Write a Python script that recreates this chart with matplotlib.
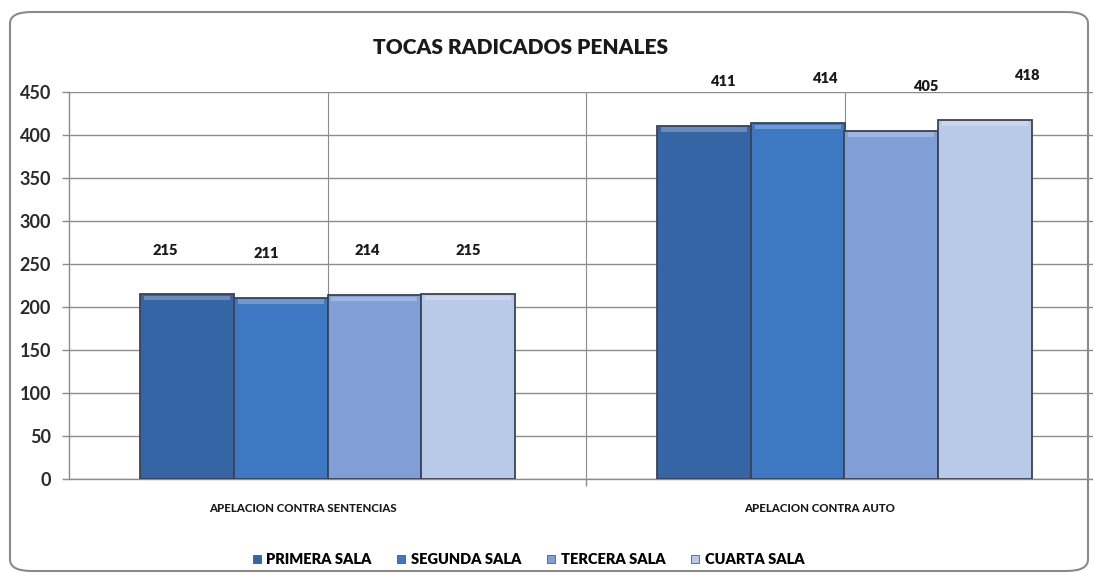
import matplotlib
matplotlib.use('AGG')

import numpy as np
import matplotlib.pyplot as plt
import matplotlib.transforms as mtransforms
from matplotlib.patches import FancyBboxPatch
from matplotlib.lines import Line2D

# Data
categories = ['APELACION CONTRA SENTENCIAS', 'APELACION CONTRA AUTO']
series = ['PRIMERA SALA', 'SEGUNDA SALA', 'TERCERA SALA', 'CUARTA SALA']
primera = [215, 411]
segunda = [211, 414]
tercera = [214, 405]
cuarta = [215, 418]
values = [primera, segunda, tercera, cuarta]

colors = ['#3665a5', '#3f78c2', '#7f9fd6', '#b9c9e8']
edge = '#3a4354'
grid_c = '#8c8c8c'
font = ['Lato', 'DejaVu Sans']

W, H = 1093, 573
fig = plt.figure(figsize=(W / 100, H / 100), dpi=100)

# rounded chart border
border = FancyBboxPatch((10 / W, 2 / H), 1078 / W, 559 / H,
                        boxstyle='round,pad=0,rounding_size=0.02',
                        transform=fig.transFigure, fill=False,
                        ec='#8a8a8a', lw=1.5)
fig.patches.append(border)

ax = fig.add_axes([69 / W, 94 / H, (1103 - 69) / W, 387 / H])

x = np.arange(len(categories))
bw = 0.1813
offsets = (np.arange(len(series)) - 1.5) * bw

for i, (vals, c) in enumerate(zip(values, colors)):
    ax.bar(x + offsets[i], vals, bw, color=c, edgecolor=edge,
           linewidth=1.3, zorder=3)
    # light bevel strip on top of each bar
    ax.bar(x + offsets[i], [5] * len(vals), bw * 0.92, bottom=np.array(vals) - 7,
           color='white', alpha=0.25, linewidth=0, zorder=4)
    for xi, v in zip(x + offsets[i], vals):
        shift = 0.08 * (xi - 0.26)
        ax.annotate(str(v), (xi + shift, v), xytext=(0, 27),
                    textcoords='offset points', ha='center', va='bottom',
                    fontsize=10.5, fontweight='heavy', color='#1a1a1a',
                    family=font)

ax.set_xlim(-0.5, 1.5)
ax.set_ylim(0, 450)
ax.set_yticks(np.arange(0, 451, 50))
ax.tick_params(axis='y', length=5, width=1, color=grid_c, pad=8,
               labelsize=13, labelcolor='#2a2a2a')
for lab in ax.get_yticklabels():
    lab.set_family(font)
    lab.set_fontweight('bold')

ax.set_xticks(x)
ax.set_xticklabels([])
ax.set_xticks([0.5, 1.5], minor=True)
ax.tick_params(axis='x', which='major', length=0)
ax.tick_params(axis='x', which='minor', length=5, width=1, color=grid_c)

ax.grid(True, axis='y', color=grid_c, lw=1, zorder=0)
ax.grid(True, axis='x', which='both', color=grid_c, lw=0.8, zorder=0)
ax.set_axisbelow(True)

for s in ['top', 'right']:
    ax.spines[s].set_visible(False)
for s in ['left', 'bottom']:
    ax.spines[s].set_color(grid_c)
    ax.spines[s].set_linewidth(1)

# category labels below the axis
shift_tr = ax.get_xaxis_transform() + mtransforms.ScaledTranslation(-25 / 100, 0, fig.dpi_scale_trans)
for xi, cat in zip(x, categories):
    ax.text(xi, -0.075, cat, transform=shift_tr, ha='center', va='center',
            fontsize=8.2, fontweight='black', color='#1a1a1a', family=font)

fig.text(521 / W, 1 - 47 / H, 'TOCAS RADICADOS PENALES', ha='center', va='center',
         fontsize=15, fontweight='heavy', color='#1a1a1a', family=font)

handles = [Line2D([], [], marker='s', ls='', markersize=6, color=c, markeredgecolor=edge,
                  markeredgewidth=0.5) for c in colors]
fig.legend(handles, series, loc='center', bbox_to_anchor=(528 / W, 1 - 560 / H),
           ncol=4, frameon=False, handlelength=0.7, handletextpad=0.3,
           columnspacing=1.7, prop={'family': font, 'weight': 'heavy', 'size': 10.5})

fig.savefig('out.png', dpi=100)
